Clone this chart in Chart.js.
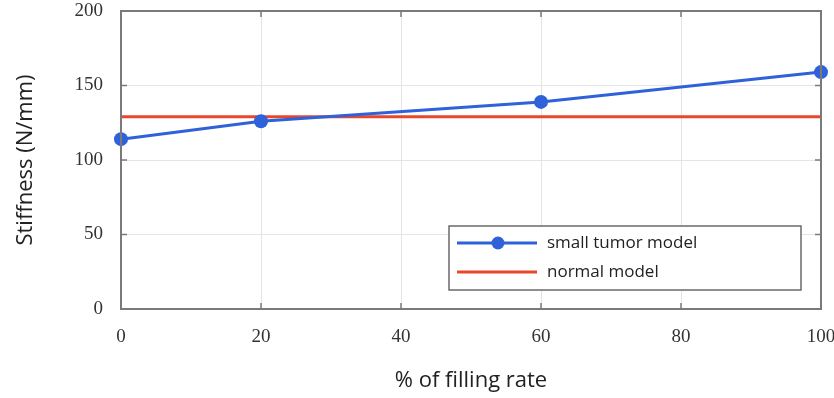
<!DOCTYPE html>
<html>
<head>
<meta charset="utf-8">
<script src="https://cdn.jsdelivr.net/npm/chart.js@4"></script>
<style>
  html, body { margin: 0; padding: 0; background: #fff; }
  #wrap { width: 834px; height: 398px; position: relative; }
</style>
</head>
<body>
<div id="wrap"><canvas id="stiffChart"></canvas></div>
<script>
// data
const fillingRate = [0, 20, 60, 100];
const tumorStiffness = [114, 126, 139, 159];
const normalStiffness = 129;
const xTicks = [0, 20, 40, 60, 80, 100];
const yTicks = [0, 50, 100, 150, 200];

const blue = '#2f62d9';
const red = '#e8472b';
const frameColor = '#7a7a7a';

// box around plot + short inward ticks, like the matlab style figure
const framePlugin = {
    id: 'frame',
    afterDatasetsDraw(chart) {
        const { ctx, chartArea: a, scales } = chart;
        ctx.save();
        ctx.strokeStyle = frameColor;
        ctx.lineWidth = 2;
        ctx.strokeRect(a.left, a.top, a.right - a.left, a.bottom - a.top);
        ctx.lineWidth = 1.5;
        ctx.beginPath();
        yTicks.forEach(v => {
            const y = scales.y.getPixelForValue(v);
            ctx.moveTo(a.left, y); ctx.lineTo(a.left + 6, y);
            ctx.moveTo(a.right, y); ctx.lineTo(a.right - 6, y);
        });
        xTicks.forEach(v => {
            const x = scales.x.getPixelForValue(v);
            ctx.moveTo(x, a.bottom); ctx.lineTo(x, a.bottom - 6);
            ctx.moveTo(x, a.top); ctx.lineTo(x, a.top + 6);
        });
        ctx.stroke();
        ctx.restore();
    }
};

// legend box inside the plot, lower right
const boxLegend = {
    id: 'boxLegend',
    afterDraw(chart) {
        const { ctx } = chart;
        const x0 = 449, y0 = 226, w = 352, h = 64;
        ctx.save();
        ctx.fillStyle = '#fff';
        ctx.fillRect(x0, y0, w, h);
        ctx.strokeStyle = '#6a6a6a';
        ctx.lineWidth = 1.5;
        ctx.strokeRect(x0, y0, w, h);
        ctx.font = '17px "Open Sans", sans-serif';
        ctx.textBaseline = 'middle';
        chart.data.datasets.forEach((ds, i) => {
            const y = y0 + 17 + i * 29;
            ctx.strokeStyle = ds.borderColor;
            ctx.lineWidth = 3;
            ctx.beginPath();
            ctx.moveTo(x0 + 8, y); ctx.lineTo(x0 + 88, y);
            ctx.stroke();
            if (ds.pointRadius > 0) {
                ctx.fillStyle = ds.borderColor;
                ctx.beginPath();
                ctx.arc(x0 + 49, y, 6.5, 0, Math.PI * 2);
                ctx.fill();
            }
            ctx.fillStyle = '#222';
            ctx.fillText(ds.label, x0 + 98, y);
        });
        ctx.restore();
    }
};

const noPad = s => {
    s.paddingTop = 0; s.paddingBottom = 0;
    s.paddingLeft = 0; s.paddingRight = 0;
};

const ctx = document.getElementById('stiffChart').getContext('2d');
new Chart(ctx, {
    type: 'line',
    data: {
        datasets: [
            {
                label: 'small tumor model',
                data: fillingRate.map((r, i) => ({ x: r, y: tumorStiffness[i] })),
                borderColor: blue,
                backgroundColor: blue,
                borderWidth: 3,
                pointRadius: 7,
                pointBackgroundColor: blue,
                pointBorderWidth: 0,
                tension: 0,
                clip: false
            },
            {
                label: 'normal model',
                data: [{ x: xTicks[0], y: normalStiffness }, { x: xTicks[xTicks.length - 1], y: normalStiffness }],
                borderColor: red,
                backgroundColor: red,
                borderWidth: 3,
                pointRadius: 0,
                tension: 0
            }
        ]
    },
    options: {
        responsive: true,
        maintainAspectRatio: false,
        animation: false,
        layout: { autoPadding: false, padding: { left: 0, right: 13, top: 11, bottom: 0 } },
        scales: {
            x: {
                type: 'linear',
                min: 0,
                max: 100,
                afterBuildTicks: s => { s.ticks = xTicks.map(v => ({ value: v })); },
                afterFit: s => { s.height = 89; noPad(s); },
                grid: { color: '#e4e4e4', lineWidth: 1, drawTicks: false },
                border: { display: false },
                ticks: {
                    padding: 17,
                    color: '#333',
                    font: { family: '"Liberation Serif", serif', size: 19 }
                },
                title: {
                    display: true,
                    text: '% of filling rate',
                    color: '#222',
                    padding: { top: 16 },
                    font: { family: '"Open Sans", sans-serif', size: 22 }
                }
            },
            y: {
                min: 0,
                max: 200,
                afterBuildTicks: s => { s.ticks = yTicks.map(v => ({ value: v })); },
                afterFit: s => { s.width = 121; noPad(s); },
                grid: { color: '#e4e4e4', lineWidth: 1, drawTicks: false },
                border: { display: false },
                ticks: {
                    padding: 18,
                    color: '#333',
                    font: { family: '"Liberation Serif", serif', size: 19 }
                },
                title: {
                    display: true,
                    text: 'Stiffness (N/mm)',
                    color: '#222',
                    padding: { top: 13, bottom: 0 },
                    font: { family: '"Open Sans", sans-serif', size: 22 }
                }
            }
        },
        plugins: {
            legend: { display: false },
            tooltip: { enabled: false }
        }
    },
    plugins: [framePlugin, boxLegend]
});
</script>
</body>
</html>
